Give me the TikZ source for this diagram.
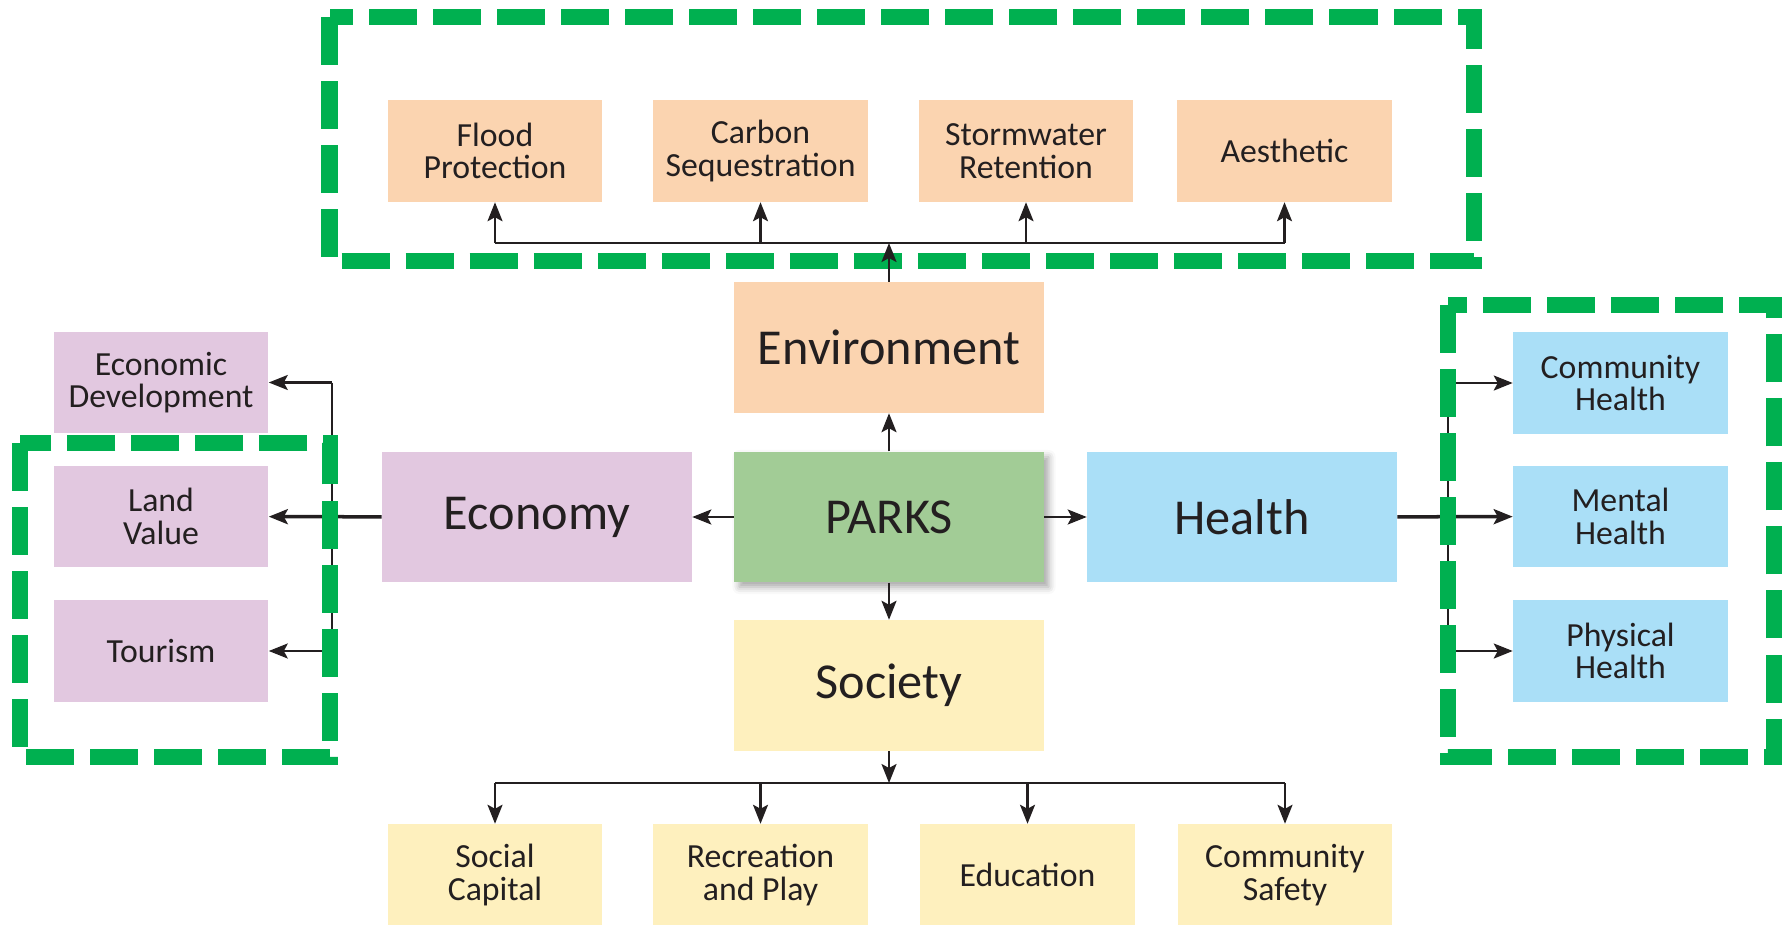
\documentclass[tikz,border=0pt]{standalone}
\usepackage{fontspec}
\setmainfont{Carlito}
\usetikzlibrary{arrows.meta,shadows.blur}
\definecolor{envcol}{RGB}{251,212,176}
\definecolor{parkcol}{RGB}{162,204,150}
\definecolor{healthcol}{RGB}{170,223,247}
\definecolor{econcol}{RGB}{226,200,224}
\definecolor{soccol}{RGB}{254,240,190}
\definecolor{groupcol}{RGB}{0,176,80}
\definecolor{inkcol}{RGB}{35,31,32}
\tikzset{
  catbox/.style={inner sep=0pt, align=center, text=inkcol, minimum width=3.09cm, minimum height=1.3cm, font=\fontsize{14.3}{16}\selectfont},
  subbox/.style={inner sep=0pt, align=center, text=inkcol, minimum width=2.14cm, minimum height=1.01cm, font=\fontsize{9.6}{9.2}\selectfont},
  conn/.style={draw=inkcol, line width=0.024cm},
  mainconn/.style={draw=inkcol, line width=0.035cm},
  headed/.style={-{Stealth[length=0.19cm,width=0.15cm,inset=0.04cm]}},
  groupline/.style={draw=groupcol, line width=0.16cm, dash pattern=on 0.48cm off 0.16cm},
}
\begin{document}
\begin{tikzpicture}[x=0.01cm, y=-0.01cm]
    \useasboundingbox (0,0) rectangle (1791,924);
    \newcommand{\midx}{889}
    \newcommand{\midy}{517}
    % central row
    \node[catbox, fill=parkcol, blur shadow={shadow xshift=0.05cm, shadow yshift=-0.05cm, shadow blur radius=0.07cm, shadow opacity=35}] (parks) at (\midx,\midy) {PARKS};
    \node[catbox, fill=envcol] (env) at (\midx,347.5) {Environment};
    \node[catbox, fill=soccol] (soc) at (\midx,685.5) {Society};
    \node[catbox, fill=econcol] (econ) at (537,\midy) {Economy};
    \node[catbox, fill=healthcol] (health) at (1242,\midy) {Health};
    % environment row
    \node[subbox, fill=envcol] (flood) at (495,151) {Flood\\Protection};
    \node[subbox, fill=envcol] (carbon) at (760.5,151) {Carbon\\Sequestration};
    \node[subbox, fill=envcol] (storm) at (1026,151) {Stormwater\\Retention};
    \node[subbox, fill=envcol] (aesth) at (1284.5,151) {Aesthetic};
    % economy column
    \node[subbox, fill=econcol] (ecodev) at (161,382.5) {Economic\\Development};
    \node[subbox, fill=econcol] (landval) at (161,516.5) {Land\\Value};
    \node[subbox, fill=econcol] (tourism) at (161,651) {Tourism};
    % health column
    \node[subbox, fill=healthcol] (commhealth) at (1620.5,383) {Community\\Health};
    \node[subbox, fill=healthcol] (mental) at (1620.5,516.5) {Mental\\Health};
    \node[subbox, fill=healthcol] (physical) at (1620.5,651) {Physical\\Health};
    % society row
    \node[subbox, fill=soccol] (social) at (495,875) {Social\\Capital};
    \node[subbox, fill=soccol] (recplay) at (760.5,875) {Recreation\\and Play};
    \node[subbox, fill=soccol] (educ) at (1027.5,875) {Education};
    \node[subbox, fill=soccol] (safety) at (1285,875) {Community\\Safety};
    \coordinate (envbus) at (\midx,243);
    \coordinate (socbus) at (\midx,783);
    \coordinate (econbus) at (332,\midy);
    \coordinate (healthbus) at (1448,\midy);
    \draw[conn,headed] (parks) -- (env);
    \draw[conn,headed] (parks) -- (soc);
    \draw[conn,headed] (parks) -- (econ);
    \draw[conn,headed] (parks) -- (health);
    \draw[mainconn,headed] (econ) -- (landval);
    \draw[conn] (econbus |- ecodev) -- (econbus |- tourism);
    \draw[conn,headed] (econbus |- ecodev) -- (ecodev);
    \draw[conn,headed] (econbus |- tourism) -- (tourism);
    \draw[mainconn,headed] (health) -- (mental);
    \draw[conn] (healthbus |- commhealth) -- (healthbus |- physical);
    \draw[conn,headed] (healthbus |- commhealth) -- (commhealth);
    \draw[conn,headed] (healthbus |- physical) -- (physical);
    % dashed groups
    \draw[groupline] (329.5,17) rectangle (1474,261);
    \draw[groupline] (20,443) rectangle (330,757);
    \draw[groupline] (1448,305) rectangle (1774,757);
    \draw[conn,headed] (env) -- (envbus);
    \draw[conn] (envbus -| flood) -- (envbus -| aesth);
    \foreach \n in {flood,carbon,storm,aesth}
        \draw[conn,headed] (envbus -| \n) -- (\n);
    \draw[conn,headed] (soc) -- (socbus);
    \draw[conn] (socbus -| social) -- (socbus -| safety);
    \foreach \n in {social,recplay,educ,safety}
        \draw[conn,headed] (socbus -| \n) -- (\n);
\end{tikzpicture}
\end{document}
